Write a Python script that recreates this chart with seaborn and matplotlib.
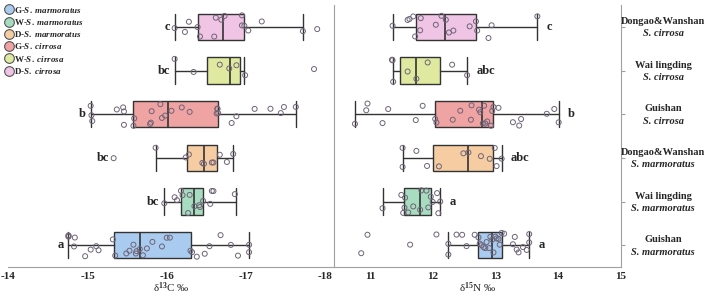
import numpy as np
import pandas as pd
import seaborn as sns
import matplotlib.pyplot as plt
from matplotlib.lines import Line2D
from matplotlib.transforms import blended_transform_factory

# rows from top to bottom
groups = ['D-S. cirrosa', 'W-S. cirrosa', 'G-S. cirrosa',
          'D-S. marmoratus', 'W-S. marmoratus', 'G-S. marmoratus']
sites = ['Dongao&Wanshan', 'Wai lingding', 'Guishan',
         'Dongao&Wanshan', 'Wai lingding', 'Guishan']
species = ['S. cirrosa', 'S. cirrosa', 'S. cirrosa',
           'S. marmoratus', 'S. marmoratus', 'S. marmoratus']
colors = ['#efc4e4', '#dfeaa0', '#f0a3a3', '#f6cda2', '#a8dcc0', '#a9cbef']

# delta 13C box stats
c_low = [-17.72, -16.98, -17.63, -16.84, -16.87, -17.04]
c_q1 = [-16.97, -16.93, -16.65, -16.64, -16.46, -16.31]
c_med = [-16.71, -16.80, -16.02, -16.47, -16.35, -15.66]
c_q3 = [-16.40, -16.51, -15.58, -16.26, -16.18, -15.33]
c_high = [-16.10, -16.10, -15.05, -15.87, -15.97, -14.76]
c_letters = ['c', 'bc', 'b', 'bc', 'bc', 'a']

# delta 15N box stats
n_low = [11.36, 11.36, 10.76, 11.52, 11.20, 12.25]
n_q1 = [11.74, 11.48, 12.04, 12.01, 11.55, 12.73]
n_med = [12.19, 11.74, 12.78, 12.57, 11.80, 12.94]
n_q3 = [12.69, 12.12, 12.97, 12.97, 11.97, 13.11]
n_high = [13.67, 12.55, 14.01, 13.10, 12.12, 13.54]
n_letters = ['c', 'abc', 'b', 'abc', 'a', 'a']

# individual samples
c_points = [
    [-16.10, -16.23, -16.28, -16.39, -16.42, -16.60, -16.62, -16.69, -16.73,
     -16.95, -16.95, -16.98, -17.03, -17.20, -17.72, -17.90],
    [-16.10, -16.34, -16.67, -16.79, -16.88, -16.99, -17.86],
    [-15.04, -15.05, -15.06, -15.37, -15.45, -15.46, -15.46, -15.58, -15.59,
     -15.79, -15.80, -15.81, -15.92, -15.94, -15.98, -16.06, -16.19, -16.29,
     -16.63, -16.64, -16.64, -16.65, -16.82, -16.88, -17.11, -17.31, -17.44,
     -17.48, -17.63],
    [-15.33, -15.86, -16.24, -16.28, -16.45, -16.47, -16.57, -16.59, -16.67,
     -16.76, -16.84],
    [-15.97, -16.10, -16.13, -16.18, -16.20, -16.27, -16.29, -16.35, -16.41,
     -16.42, -16.46, -16.55, -16.57, -16.59, -16.86],
    [-14.76, -14.76, -14.76, -14.83, -14.84, -14.97, -15.04, -15.11, -15.14,
     -15.32, -15.35, -15.49, -15.53, -15.58, -15.61, -15.62, -15.66, -15.70,
     -15.75, -15.82, -15.94, -16.00, -16.04, -16.30, -16.32, -16.38, -16.48,
     -16.54, -16.68, -16.81, -16.90, -17.04, -17.04],
]
n_points = [
    [11.36, 11.60, 11.63, 11.69, 11.72, 11.80, 11.81, 12.05, 12.14, 12.21,
     12.26, 12.33, 12.59, 12.69, 12.71, 12.89, 12.94, 13.67],
    [11.35, 11.36, 11.37, 11.60, 11.74, 11.92, 12.31, 12.55],
    [10.76, 10.94, 10.96, 11.20, 11.29, 11.73, 11.84, 12.04, 12.06, 12.32,
     12.44, 12.61, 12.62, 12.74, 12.76, 12.80, 12.82, 12.84, 12.87, 12.93,
     12.95, 12.97, 13.05, 13.28, 13.38, 13.41, 13.82, 13.94, 14.01],
    [11.52, 11.52, 11.74, 11.91, 12.10, 12.49, 12.57, 12.77, 12.91, 12.99,
     13.02, 13.10],
    [11.20, 11.50, 11.53, 11.55, 11.56, 11.61, 11.69, 11.80, 11.82, 11.90,
     11.93, 11.97, 12.00, 12.07, 12.09, 12.12],
    [10.86, 10.96, 11.64, 12.06, 12.25, 12.25, 12.38, 12.47, 12.54, 12.67,
     12.73, 12.75, 12.78, 12.81, 12.84, 12.86, 12.90, 12.92, 12.95, 12.97,
     13.00, 13.02, 13.05, 13.07, 13.10, 13.14, 13.28, 13.31, 13.34, 13.37,
     13.44, 13.50, 13.54, 13.54],
]

sns.set_style('white')
plt.rcParams['font.family'] = ['Liberation Serif', 'DejaVu Serif']
plt.rcParams['font.weight'] = 'bold'
plt.rcParams['axes.unicode_minus'] = False
plt.rcParams['mathtext.fontset'] = 'custom'
plt.rcParams['mathtext.rm'] = 'Liberation Serif:bold'
plt.rcParams['mathtext.it'] = 'Liberation Serif:italic:bold'

np.random.seed(3)

fig = plt.figure(figsize=(7.09, 2.96), dpi=100)
ax1 = fig.add_axes([0.0117, 0.098, 0.4587, 0.885])
ax2 = fig.add_axes([0.4704, 0.098, 0.4051, 0.885])

edge = '#333333'
gray = '#a0a0a0'


def draw_panel(ax, points, low, q1, med, q3, high):
    df = pd.DataFrame({
        'group': [g for g, p in zip(groups, points) for _ in p],
        'value': [v for p in points for v in p],
    })
    sns.stripplot(data=df, x='value', y='group', order=groups, ax=ax,
                  jitter=0.28, size=3.6, marker='o', facecolor='none',
                  edgecolor='#6e6477', linewidth=0.7, zorder=5)
    stats = [dict(whislo=low[i], q1=q1[i], med=med[i], q3=q3[i],
                  whishi=high[i], fliers=[]) for i in range(len(groups))]
    bp = ax.bxp(stats, positions=range(len(groups)), orientation='horizontal',
                widths=0.6, capwidths=0.6, patch_artist=True,
                showfliers=False, manage_ticks=False,
                boxprops=dict(edgecolor=edge, linewidth=1.0),
                whiskerprops=dict(color=edge, linewidth=1.0),
                capprops=dict(color=edge, linewidth=1.0),
                medianprops=dict(color=edge, linewidth=1.2))
    for patch, col in zip(bp['boxes'], colors):
        patch.set_facecolor(col)
    ax.set_ylim(5.5, -0.5)
    ax.set_ylabel('')
    ax.spines['top'].set_visible(False)
    for s in ['left', 'right', 'bottom']:
        ax.spines[s].set_color(gray)
    ax.tick_params(axis='x', labelsize=8, length=2.5, color=gray, pad=1,
                   direction='out')


draw_panel(ax1, c_points, c_low, c_q1, c_med, c_q3, c_high)
draw_panel(ax2, n_points, n_low, n_q1, n_med, n_q3, n_high)

# left panel: d13C, reversed axis
ax1.set_xlim(-14, -18.106)
ax1.set_xticks([-14, -15, -16, -17, -18])
ax1.spines['left'].set_visible(False)
ax1.spines['right'].set_visible(False)
ax1.set_yticks([])
ax1.set_xlabel('δ$^{13}$C ‰', fontsize=8, labelpad=0)
for i in range(len(groups)):
    ax1.annotate(c_letters[i], (max(c_points[i]), i), xytext=(-3.5, 0),
                 textcoords='offset points', ha='right', va='center',
                 fontsize=9, fontweight='bold')

# right panel: d15N
ax2.set_xlim(10.418, 15)
ax2.set_xticks([11, 12, 13, 14, 15])
ax2.yaxis.tick_right()
ax2.set_yticks(range(len(groups)))
ax2.set_yticklabels([])
ax2.tick_params(axis='y', length=3, color=gray, direction='out')
ax2.set_xlabel('δ$^{15}$N ‰', fontsize=8, labelpad=0)
for i in range(len(groups)):
    ax2.annotate(n_letters[i], (max(n_points[i]), i), xytext=(6.5, 0),
                 textcoords='offset points', ha='left', va='center',
                 fontsize=9, fontweight='bold')

tr = blended_transform_factory(ax2.transAxes, ax2.transData)
for i in range(len(groups)):
    ax2.text(1.148, i - 0.12, sites[i], transform=tr, ha='center',
             va='center', fontsize=7.5, fontweight='bold')
    ax2.text(1.148, i + 0.16, species[i], transform=tr, ha='center',
             va='center', fontsize=7.5, fontweight='bold', style='italic')

# legend
leg_labels = ['G-$\\mathit{S.\\ marmoratus}$', 'W-$\\mathit{S.\\ marmoratus}$',
              'D-$\\mathit{S.\\ marmoratus}$', 'G-$\\mathit{S.\\ cirrosa}$',
              'W-$\\mathit{S.\\ cirrosa}$', 'D-$\\mathit{S.\\ cirrosa}$']
leg_colors = colors[::-1]
handles = [Line2D([], [], marker='o', ls='', markersize=7,
                  markerfacecolor=c, markeredgecolor='#555555',
                  markeredgewidth=0.8) for c in leg_colors]
fig.legend(handles, leg_labels, loc='upper left', bbox_to_anchor=(0.0, 1.0),
           frameon=False, fontsize=6.5, handletextpad=0.1, labelspacing=0.25,
           handlelength=1.0, borderpad=0.3, borderaxespad=0.2)

plt.savefig('out.png', dpi=100)
